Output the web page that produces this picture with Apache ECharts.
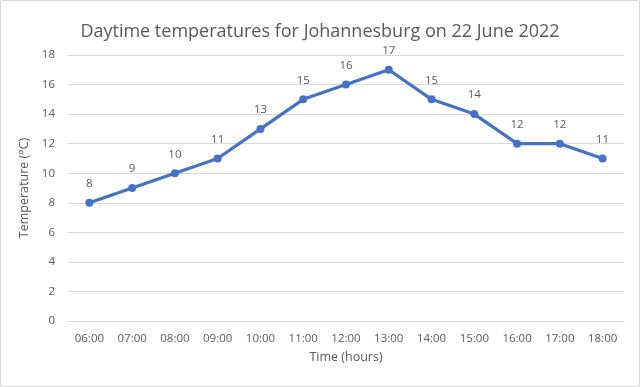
<!DOCTYPE html>
<html><head><meta charset="utf-8">
<script src="https://cdn.jsdelivr.net/npm/echarts@6/dist/echarts.min.js"></script>
<style>html,body{margin:0;padding:0;background:#fff;}#c{width:638px;height:385px;border:1px solid #d9d9d9;border-radius:2px;}</style>
</head><body><div id="c"></div>
<script>
const categories = ['06:00','07:00','08:00','09:00','10:00','11:00','12:00','13:00','14:00','15:00','16:00','17:00','18:00'];
const temperatures = [8,9,10,11,13,15,16,17,15,14,12,12,11];
const titleText = 'Daytime temperatures for Johannesburg on 22 June 2022';
const font = '"Open Sans", "Liberation Sans", sans-serif';
const chart = echarts.init(document.getElementById('c'));
chart.setOption({
  animation:false,
  title:{text:titleText,left:'center',top:17,textStyle:{fontFamily:font,fontSize:18,fontWeight:'normal',color:'#595959'}},
  grid:{left:67,right:15,top:54,bottom:65},
  xAxis:{type:'category',data:categories,boundaryGap:true,
    name:'Time (hours)',nameLocation:'middle',nameGap:30,
    nameTextStyle:{fontFamily:font,fontSize:12.5,color:'#595959'},
    axisLine:{lineStyle:{color:'#d9d9d9',width:1}},axisTick:{show:false},
    axisLabel:{interval:0,fontFamily:font,fontSize:11.5,color:'#595959',margin:12}},
  yAxis:{type:'value',min:0,max:18,interval:2,
    name:'Temperature (°C)',nameLocation:'middle',nameGap:27,
    nameTextStyle:{fontFamily:font,fontSize:12.5,color:'#595959'},
    axisLine:{show:false},axisTick:{show:false},
    axisLabel:{fontFamily:font,fontSize:11.5,color:'#595959',margin:13},
    splitLine:{lineStyle:{color:'#d9d9d9',width:1}}},
  series:[{type:'line',data:temperatures,symbol:'circle',symbolSize:8,
    lineStyle:{color:'#4472C4',width:3.2},itemStyle:{color:'#4472C4'},
    label:{show:true,position:'top',distance:9,fontFamily:font,fontSize:11.5,color:'#595959'}}]
});
</script></body></html>
